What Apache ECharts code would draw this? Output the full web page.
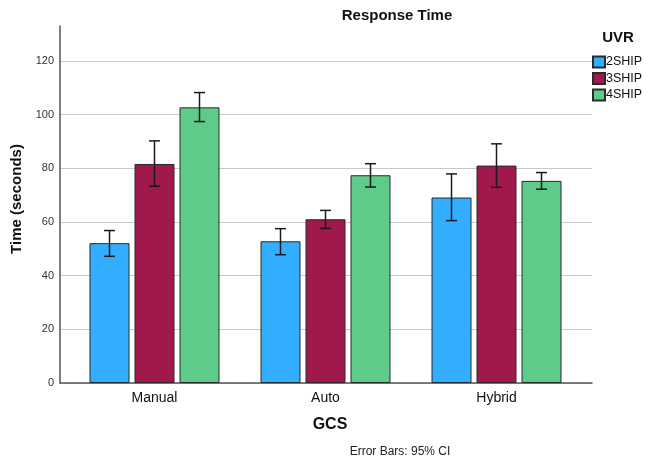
<!DOCTYPE html>
<html><head><meta charset="utf-8">
<script src="https://cdn.jsdelivr.net/npm/echarts@6/dist/echarts.min.js"></script>
<style>html,body{margin:0;padding:0;background:#fff}#c{width:648px;height:465px}</style>
</head><body><div id="c"></div>
<script>
const categories = ['Manual', 'Auto', 'Hybrid'];
const seriesNames = ['2SHIP', '3SHIP', '4SHIP'];
const means2 = [52.1, 52.8, 69.1];
const means3 = [81.6, 61.0, 81.0];
const means4 = [102.7, 77.4, 75.3];
const lo2 = [47.2, 47.8, 60.5], hi2 = [56.8, 57.5, 77.9];
const lo3 = [73.3, 57.6, 72.9], hi3 = [90.2, 64.3, 89.1];
const lo4 = [97.4, 73.0, 72.2], hi4 = [108.2, 81.7, 78.4];
const yMin = 0, yTickMax = 120, yInterval = 20, yAxisMax = 133;

const colors = ['#33adff', '#a1194c', '#5ecb8b'];
const means = [means2, means3, means4];
const los = [lo2, lo3, lo4], his = [hi2, hi3, hi4];
const barWidth = 40, barGapPx = 5;
const FONT = 'Liberation Sans, Arial, sans-serif';

const chart = echarts.init(document.getElementById('c'), null, {renderer: 'canvas'});

const series = [];
seriesNames.forEach((n, s) => {
  series.push({
    type: 'bar', name: n, xAxisIndex: 2, yAxisIndex: 2,
    data: means[s], barWidth: barWidth, barGap: (barGapPx / barWidth * 100) + '%',
    itemStyle: {color: colors[s], borderColor: '#2a2a2a', borderWidth: 1},
    emphasis: {disabled: true}, z: 2
  });
});
seriesNames.forEach((n, s) => {
  const off = (s - 1) * (barWidth + barGapPx);
  series.push({
    type: 'custom', xAxisIndex: 2, yAxisIndex: 2, z: 5,
    data: categories.map((c, i) => [i, los[s][i], his[s][i]]),
    renderItem: function (params, api) {
      const x = api.coord([api.value(0), 0])[0] + off;
      const yl = api.coord([api.value(0), api.value(1)])[1];
      const yh = api.coord([api.value(0), api.value(2)])[1];
      const cw = 5.5;
      const st = {stroke: '#1a1a1a', lineWidth: 1.5};
      return {type: 'group', children: [
        {type: 'line', shape: {x1: x, y1: yl, x2: x, y2: yh}, style: st},
        {type: 'line', shape: {x1: x - cw, y1: yh, x2: x + cw, y2: yh}, style: st},
        {type: 'line', shape: {x1: x - cw, y1: yl, x2: x + cw, y2: yl}, style: st}
      ]};
    }
  });
});

const option = {
  animation: false,
  textStyle: {fontFamily: FONT},
  grid: [
    {left: 60, right: 56, top: 61, bottom: 82},
    {left: 60, right: 56, top: 26, bottom: 82},
    {left: 69, right: 66, top: 26, bottom: 82}
  ],
  xAxis: [
    {gridIndex: 0, type: 'value', min: 0, max: 1, axisLine: {show: true, onZero: false, lineStyle: {color: '#555', width: 1.5}},
     axisTick: {show: false}, axisLabel: {show: false}, splitLine: {show: false}},
    {gridIndex: 1, type: 'value', show: false},
    {gridIndex: 2, type: 'category', data: categories, axisLine: {show: false}, axisTick: {show: false},
     axisLabel: {color: '#111', fontSize: 14, margin: 8, fontFamily: FONT}}
  ],
  yAxis: [
    {gridIndex: 0, type: 'value', min: yMin, max: yTickMax, interval: yInterval,
     axisLine: {show: false}, axisTick: {show: false},
     axisLabel: {color: '#333', fontSize: 11, margin: 6, fontFamily: FONT},
     splitLine: {show: true, lineStyle: {color: '#c8c8c8', width: 1.2}}},
    {gridIndex: 1, type: 'value', min: yMin, max: yAxisMax,
     axisLine: {show: true, lineStyle: {color: '#555', width: 1.5}}, axisTick: {show: false},
     axisLabel: {show: false}, splitLine: {show: false}},
    {gridIndex: 2, type: 'value', min: yMin, max: yAxisMax, show: false, splitLine: {show: false}}
  ],
  legend: {
    orient: 'vertical', left: 592, top: 55.5, padding: 0, itemWidth: 12, itemHeight: 11, itemGap: 3.5,
    data: seriesNames, icon: 'rect', selectedMode: false,
    textStyle: {color: '#111', fontSize: 12.5, padding: [0, 0, 0, -4], fontFamily: FONT}
  },
  graphic: [
    {type: 'text', x: 397, y: 16, style: {text: 'Response Time', font: 'bold 15px ' + FONT, fill: '#111', textAlign: 'center', textVerticalAlign: 'middle'}},
    {type: 'text', x: 618, y: 38, style: {text: 'UVR', font: 'bold 15px ' + FONT, fill: '#111', textAlign: 'center', textVerticalAlign: 'middle'}},
    {type: 'text', x: 17, y: 199, rotation: Math.PI / 2, style: {text: 'Time (seconds)', font: 'bold 15px ' + FONT, fill: '#111', textAlign: 'center', textVerticalAlign: 'middle'}},
    {type: 'text', x: 330, y: 425, style: {text: 'GCS', font: 'bold 16px ' + FONT, fill: '#111', textAlign: 'center', textVerticalAlign: 'middle'}},
    {type: 'text', x: 400, y: 452, style: {text: 'Error Bars: 95% CI', font: '12px ' + FONT, fill: '#222', textAlign: 'center', textVerticalAlign: 'middle'}}
  ],
  series: series
};
chart.setOption(option);
</script></body></html>
